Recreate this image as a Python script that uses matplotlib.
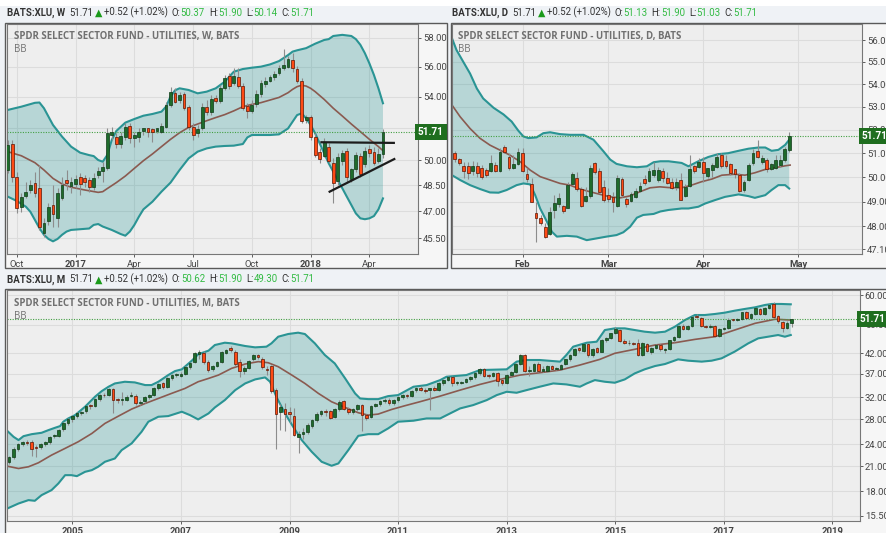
import numpy as np
import pandas as pd
import matplotlib
matplotlib.use("Agg")
import matplotlib.pyplot as plt
from matplotlib.patches import Rectangle
from matplotlib.ticker import FixedLocator, NullLocator, FuncFormatter

W_PX, H_PX = 887, 533

# ---------------- weekly (W) ----------------
WEEKLY_START = "2016-09-19"
W_OPEN = [
    49.41, 50.97, 49.01, 47.22, 47.90, 48.23, 48.62, 48.33, 45.77, 46.46,
    47.35, 46.60, 47.78, 48.81, 48.46, 48.56, 49.01, 48.81, 48.81, 48.42,
    49.11, 49.37, 49.51, 51.55, 51.45, 51.00, 51.45, 52.13, 51.35, 51.45,
    51.78, 51.80, 51.84, 51.78, 51.76, 52.07, 53.46, 54.26, 53.78, 54.15,
    53.35, 52.07, 51.65, 51.96, 53.35, 52.99, 53.89, 53.72, 54.59, 55.37,
    54.93, 55.28, 54.70, 53.39, 53.08, 53.53, 54.20, 54.82, 55.06, 55.28,
    55.60, 55.89, 56.00, 56.45, 55.85, 55.04, 52.50, 52.69, 51.45, 50.52,
    50.25, 50.79, 49.85, 48.75, 49.95, 50.58, 48.87, 49.47, 50.25, 49.75,
    50.66, 50.52, 49.95, 50.37]
W_HIGH = [
    51.24, 51.24, 49.31, 48.03, 48.72, 48.81, 49.31, 49.71, 46.60, 47.45,
    48.52, 48.33, 49.01, 49.41, 49.01, 49.11, 49.21, 49.11, 49.01, 49.21,
    49.61, 49.91, 51.96, 52.07, 51.65, 51.76, 52.28, 52.28, 51.76, 51.96,
    51.96, 51.96, 52.00, 51.86, 52.28, 53.67, 54.62, 54.55, 54.33, 54.33,
    53.46, 52.28, 52.17, 53.57, 53.78, 54.11, 54.11, 54.77, 55.44, 55.55,
    55.89, 55.93, 54.88, 53.57, 53.78, 54.44, 55.10, 55.28, 55.44, 55.73,
    56.11, 57.20, 56.73, 56.90, 56.04, 55.21, 52.81, 52.81, 51.65, 50.72,
    51.34, 51.03, 50.11, 50.42, 50.62, 50.72, 49.51, 50.52, 50.42, 50.83,
    50.93, 50.83, 50.72, 51.90]
W_LOW = [
    49.21, 48.72, 46.88, 46.97, 47.74, 48.03, 47.84, 45.95, 45.55, 46.23,
    46.14, 46.14, 47.65, 48.23, 48.03, 48.33, 47.94, 48.42, 48.13, 48.23,
    48.91, 48.72, 49.41, 51.24, 50.72, 50.72, 51.24, 51.03, 50.83, 51.14,
    51.55, 51.45, 51.14, 51.65, 51.65, 51.96, 53.35, 53.57, 53.57, 53.14,
    51.86, 51.24, 51.45, 51.86, 52.81, 52.81, 53.57, 53.57, 54.44, 54.48,
    54.77, 54.55, 53.14, 52.65, 52.92, 53.35, 54.00, 54.66, 54.99, 55.10,
    55.44, 55.77, 55.89, 55.66, 54.88, 52.28, 52.28, 51.24, 50.21, 49.81,
    50.21, 49.81, 47.45, 48.52, 49.71, 48.72, 48.72, 49.31, 49.01, 49.61,
    50.21, 49.71, 49.81, 50.14]
W_CLOSE = [
    50.93, 49.01, 47.16, 47.80, 48.03, 48.52, 48.03, 46.14, 46.32, 47.26,
    46.82, 48.03, 48.52, 48.62, 48.68, 48.87, 48.56, 48.72, 48.42, 48.95,
    49.35, 49.61, 51.65, 51.60, 50.99, 51.49, 52.07, 51.35, 51.45, 51.76,
    51.80, 51.76, 51.72, 51.80, 52.13, 53.46, 54.29, 53.67, 54.11, 53.25,
    52.03, 51.55, 51.90, 53.35, 53.03, 53.84, 53.72, 54.55, 55.21, 54.71,
    55.37, 54.73, 53.25, 53.10, 53.46, 54.18, 54.88, 55.06, 55.26, 55.51,
    55.89, 56.11, 56.49, 55.89, 55.04, 52.46, 52.71, 51.41, 50.32, 50.05,
    51.14, 49.95, 48.62, 50.17, 50.42, 48.97, 49.45, 50.32, 49.17, 50.58,
    50.46, 49.85, 50.36, 51.71]
# Bollinger band (bar number, price)
W_UPPER = [(0, 53.14), (3, 53.35), (6, 53.60), (7, 53.62), (8, 53.25), (10, 52.18),
           (12, 51.45), (14, 50.83), (16, 50.46), (18, 50.31), (19, 50.25), (20, 50.01),
           (21, 49.91), (22, 50.31), (23, 51.24), (24, 51.80), (26, 52.33), (28, 52.56),
           (30, 52.77), (32, 52.88), (34, 53.03), (35, 53.35), (36, 54.00), (37, 54.42),
           (38, 54.55), (40, 54.44), (42, 54.22), (44, 54.33), (46, 54.55), (48, 54.99),
           (50, 55.66), (52, 55.84), (54, 55.93), (56, 56.00), (58, 56.15), (60, 56.38),
           (62, 56.79), (63, 57.03), (64, 57.12), (66, 57.27), (68, 57.58), (70, 57.84),
           (71, 57.90), (72, 58.12), (74, 58.20), (76, 58.12), (77, 57.90), (78, 57.50),
           (79, 56.92), (80, 56.22), (81, 55.44), (82, 54.55), (83, 53.57)]
W_LOWER = [(0, 47.84), (2, 47.59), (4, 47.26), (5, 46.97), (6, 46.51), (7, 46.05),
           (8, 45.68), (9, 45.45), (10, 45.32), (11, 45.45), (12, 45.68), (13, 45.86),
           (14, 45.95), (16, 45.99), (18, 46.03), (19, 46.23), (20, 46.28), (21, 46.14),
           (23, 45.95), (25, 45.72), (26, 45.63), (27, 45.86), (28, 46.23), (29, 46.69),
           (30, 47.11), (32, 47.55), (34, 48.13), (36, 48.66), (38, 49.41), (40, 50.11),
           (42, 50.52), (44, 50.72), (46, 50.83), (48, 50.87), (50, 50.89), (52, 50.99),
           (53, 51.40), (54, 51.55), (56, 51.55), (58, 51.55), (60, 51.59), (62, 51.96),
           (64, 52.81), (65, 52.92), (66, 52.60), (67, 52.18), (68, 51.65), (69, 51.03),
           (70, 50.42), (71, 49.81), (72, 49.31), (73, 48.81), (74, 48.33), (75, 47.84),
           (76, 47.36), (77, 46.88), (78, 46.60), (79, 46.55), (80, 46.60), (81, 46.73),
           (82, 47.11), (83, 47.74)]
W_BASIS = [(0, 50.52), (3, 50.27), (6, 49.85), (8, 49.41), (10, 48.91), (12, 48.58),
           (14, 48.39), (17, 48.23), (20, 48.09), (21, 48.13), (22, 48.31), (24, 48.66),
           (26, 49.05), (28, 49.51), (30, 49.97), (32, 50.38), (34, 50.83), (36, 51.28),
           (38, 51.69), (40, 52.03), (42, 52.24), (44, 52.45), (46, 52.65), (48, 52.84),
           (50, 53.08), (52, 53.35), (54, 53.50), (56, 53.61), (58, 53.78), (60, 53.95),
           (62, 54.26), (63, 54.48), (64, 54.66), (65, 54.75), (66, 54.70), (67, 54.55),
           (68, 54.33), (70, 53.82), (72, 53.25), (74, 52.75), (76, 52.24), (78, 51.76),
           (80, 51.28), (82, 50.83), (83, 50.58)]
# hand drawn trend lines
W_RESISTANCE = [(69.4, 51.10), (85.4, 51.06)]
W_SUPPORT = [(71.2, 48.13), (85.5, 50.07)]
W_TICK_DATES = ["2016-10-03", "2017-01-02", "2017-04-03", "2017-07-03",
                "2017-10-02", "2018-01-01", "2018-04-02"]
W_TICK_LABELS = ["Oct", "2017", "Apr", "Jul", "Oct", "2018", "Apr"]
W_YTICKS = [45.5, 47.0, 48.5, 50.0, 52.0, 54.0, 56.0, 58.0]

# ---------------- daily (D) ----------------
DAILY_START = "2018-01-10"
DAILY_HOLIDAYS = ["2018-01-15", "2018-02-19", "2018-03-30"]
D_OPEN = [
    51.02, 50.71, 50.43, 50.47, 50.25, 50.47, 50.36, 50.26, 50.26, 50.50,
    50.26, 51.15, 50.85, 50.36, 50.53, 51.02, 49.99, 49.73, 48.48, 48.32,
    47.99, 47.72, 48.66, 48.92, 48.75, 48.75, 49.71, 49.97, 49.53, 49.03,
    49.21, 50.57, 50.25, 49.60, 49.21, 49.12, 48.81, 49.94, 49.12, 49.03,
    49.19, 49.42, 49.83, 49.86, 50.08, 49.90, 50.25, 49.97, 49.79, 49.61,
    49.88, 49.24, 49.64, 50.36, 50.43, 50.64, 50.04, 50.29, 50.43, 50.92,
    50.53, 50.53, 50.15, 50.08, 49.49, 49.90, 50.57, 51.09, 50.61, 50.71,
    50.33, 50.39, 50.50, 50.71, 51.13]
D_HIGH = [
    51.09, 50.78, 50.64, 50.64, 50.67, 50.61, 50.50, 50.36, 50.92, 50.64,
    51.20, 51.35, 50.99, 50.92, 51.20, 51.20, 50.36, 49.95, 49.00, 48.46,
    48.13, 48.79, 49.26, 49.33, 48.86, 49.81, 50.22, 50.22, 49.61, 49.61,
    50.50, 50.64, 50.36, 49.88, 49.54, 49.40, 50.08, 50.01, 49.19, 49.40,
    49.54, 49.81, 50.08, 50.36, 50.64, 50.43, 50.36, 50.22, 49.95, 49.95,
    50.15, 49.70, 50.92, 50.50, 50.78, 50.85, 50.39, 50.57, 50.99, 51.02,
    50.92, 50.57, 50.29, 50.15, 49.88, 50.57, 51.17, 51.57, 50.92, 50.78,
    50.57, 50.92, 50.92, 51.27, 51.90]
D_LOW = [
    50.64, 50.50, 49.95, 49.92, 50.08, 50.01, 49.92, 50.01, 50.22, 50.22,
    50.22, 51.00, 50.29, 50.32, 50.50, 50.22, 49.81, 49.00, 47.40, 48.06,
    47.53, 47.66, 48.33, 48.79, 48.52, 48.72, 49.67, 49.43, 48.79, 49.00,
    49.13, 50.11, 49.33, 49.00, 49.00, 48.59, 48.79, 49.19, 48.79, 49.00,
    49.13, 49.40, 49.67, 49.81, 50.01, 49.81, 49.81, 49.70, 49.51, 49.47,
    49.05, 49.20, 49.60, 50.15, 50.36, 49.81, 49.95, 50.01, 50.36, 50.36,
    50.39, 50.08, 49.97, 49.40, 49.40, 49.84, 50.50, 50.78, 50.53, 50.22,
    50.29, 50.33, 50.43, 50.64, 51.03]
D_CLOSE = [
    50.74, 50.57, 50.26, 50.15, 50.47, 50.15, 49.99, 50.08, 50.57, 50.26,
    51.05, 51.05, 50.39, 50.50, 51.05, 50.26, 49.91, 49.00, 48.35, 48.13,
    47.59, 48.59, 48.95, 49.16, 48.63, 49.67, 50.12, 49.51, 48.81, 49.12,
    50.39, 50.22, 49.39, 49.05, 49.09, 48.99, 49.97, 49.25, 48.92, 49.29,
    49.44, 49.64, 49.74, 50.26, 50.29, 50.29, 49.97, 49.74, 49.57, 49.79,
    49.08, 49.58, 50.32, 50.26, 50.53, 50.15, 50.36, 50.43, 50.85, 50.46,
    50.47, 50.15, 50.13, 49.42, 49.81, 50.50, 50.99, 50.82, 50.78, 50.32,
    50.36, 50.71, 50.69, 51.19, 51.71]
D_UPPER = [(-0.6, 56.08), (0.4, 55.54), (1.9, 55.00), (3.4, 54.47), (4.9, 53.80),
           (6.3, 53.36), (8.6, 52.95), (10.8, 52.66), (12.6, 52.35), (14.1, 51.95),
           (15.2, 51.71), (16.3, 51.64), (18.1, 51.67), (19.6, 51.85), (21.1, 51.89),
           (23.3, 51.81), (25.5, 51.78), (28.5, 51.78), (30.7, 51.57), (32.9, 51.08),
           (34.4, 50.73), (35.8, 50.55), (38.1, 50.45), (40.3, 50.41), (42.5, 50.45),
           (44.0, 50.62), (45.5, 50.66), (47.3, 50.66), (50.2, 50.59), (51.7, 50.45),
           (53.9, 50.66), (56.1, 50.84), (58.3, 50.96), (60.5, 51.00), (62.8, 51.10),
           (65.0, 51.19), (67.2, 51.24), (68.7, 51.24), (70.1, 51.10), (71.6, 51.14),
           (73.1, 51.35), (74.0, 51.57)]
D_LOWER = [(-0.6, 50.08), (1.2, 49.88), (3.4, 49.67), (5.6, 49.51), (7.8, 49.37),
           (9.7, 49.36), (11.5, 49.47), (13.7, 49.67), (15.2, 49.74), (16.7, 49.70),
           (17.8, 49.26), (18.9, 48.72), (20.4, 48.19), (21.5, 47.79), (22.6, 47.60),
           (24.8, 47.63), (27.0, 47.60), (29.2, 47.46), (31.4, 47.53), (33.6, 47.60),
           (35.8, 47.66), (37.3, 47.77), (38.8, 47.99), (40.3, 48.35), (41.7, 48.46),
           (44.0, 48.50), (45.5, 48.60), (47.3, 48.66), (50.2, 48.72), (51.7, 48.72),
           (53.9, 48.79), (55.4, 48.92), (57.6, 49.06), (59.8, 49.19), (62.8, 49.29),
           (65.0, 49.22), (66.4, 49.15), (68.7, 49.26), (70.1, 49.47), (71.6, 49.67),
           (73.1, 49.67), (74.0, 49.53)]
D_BASIS = [(-0.6, 53.07), (1.2, 52.56), (3.4, 52.05), (5.6, 51.63), (7.8, 51.34),
           (10.0, 51.13), (12.2, 50.92), (14.5, 50.64), (16.7, 50.29), (18.9, 50.02),
           (21.1, 49.88), (23.3, 49.74), (25.5, 49.67), (27.7, 49.51), (29.9, 49.40),
           (32.2, 49.29), (34.4, 49.19), (36.6, 49.15), (38.8, 49.23), (41.0, 49.40),
           (43.2, 49.56), (45.4, 49.60), (47.3, 49.57), (50.2, 49.56), (52.4, 49.67),
           (54.6, 49.81), (56.9, 49.92), (59.1, 50.08), (62.0, 50.12), (64.2, 50.08),
           (66.4, 50.18), (68.7, 50.32), (70.9, 50.39), (73.1, 50.47), (74.2, 50.50)]
D_TICK_DATES = ["2018-02-01", "2018-03-01", "2018-04-02", "2018-05-01"]
D_TICK_LABELS = ["Feb", "Mar", "Apr", "May"]
D_YTICKS = [47.1, 48.0, 49.0, 50.0, 51.0, 52.0, 53.0, 54.0, 55.0, 56.0]

# ---------------- monthly (M) ----------------
MONTHLY_START = (2003, 11)
M_OPEN = [
    21.6, 22.2, 23.4, 24.0, 24.4, 24.4, 23.6, 23.6, 24.0, 24.3,
    25.2, 25.3, 26.3, 27.3, 28.0, 28.5, 29.1, 29.4, 30.5, 30.3,
    31.7, 32.5, 32.4, 33.7, 31.6, 31.5, 31.6, 32.3, 32.3, 30.9,
    31.3, 32.0, 32.5, 33.9, 34.9, 34.1, 36.0, 36.7, 36.6, 36.9,
    38.6, 39.8, 41.9, 42.0, 39.7, 38.0, 38.8, 39.9, 42.0, 43.3,
    42.4, 39.7, 37.7, 38.3, 40.4, 41.5, 40.5, 38.2, 38.8, 33.5,
    29.2, 29.8, 29.3, 28.6, 25.1, 25.5, 25.9, 26.9, 27.9, 29.0,
    29.4, 29.4, 28.4, 29.8, 31.3, 29.8, 29.3, 29.8, 30.5, 28.7,
    28.4, 30.4, 30.7, 31.3, 31.6, 30.9, 31.6, 32.1, 32.4, 32.2,
    33.4, 34.0, 33.6, 33.5, 34.0, 33.6, 34.9, 35.6, 36.2, 35.0,
    35.0, 35.1, 35.8, 36.2, 37.1, 38.1, 36.6, 36.6, 37.2, 35.6,
    35.0, 36.7, 37.3, 39.3, 41.5, 37.7, 37.7, 39.4, 37.6, 37.6,
    38.8, 38.1, 38.2, 39.3, 40.4, 41.5, 43.3, 42.6, 44.3, 41.4,
    43.3, 42.4, 45.5, 46.0, 47.4, 48.4, 45.3, 44.6, 44.7, 44.8,
    41.5, 44.3, 42.4, 43.3, 44.1, 42.9, 43.0, 45.4, 46.5, 49.6,
    48.6, 49.6, 52.9, 52.0, 49.5, 49.4, 49.5, 46.7, 48.6, 49.1,
    51.6, 51.5, 51.8, 53.9, 52.2, 53.4, 55.1, 53.3, 55.3, 56.9,
    52.6, 50.9, 49.0, 50.62]
M_HIGH = [
    22.4, 23.6, 24.2, 24.5, 24.6, 24.6, 23.9, 24.2, 24.5, 25.3,
    25.6, 26.3, 27.6, 28.3, 28.8, 29.2, 29.5, 30.4, 30.7, 31.9,
    32.6, 32.8, 33.9, 34.0, 31.9, 33.0, 32.5, 33.0, 32.6, 31.5,
    32.2, 32.7, 34.1, 34.9, 35.1, 36.2, 36.9, 37.1, 37.3, 38.8,
    39.8, 42.2, 42.9, 42.6, 40.2, 39.0, 40.1, 42.6, 43.2, 43.9,
    42.9, 40.4, 38.8, 40.3, 41.9, 41.9, 41.0, 38.9, 39.0, 34.0,
    30.8, 31.0, 30.2, 30.0, 26.0, 26.5, 27.3, 28.1, 29.3, 29.7,
    29.8, 29.6, 30.0, 31.5, 31.5, 30.1, 30.0, 30.7, 30.8, 29.0,
    30.6, 31.0, 31.5, 31.9, 31.9, 31.8, 32.3, 32.6, 32.6, 33.5,
    34.2, 34.3, 33.9, 34.0, 34.3, 35.2, 35.8, 36.4, 36.5, 35.5,
    35.5, 36.0, 36.4, 37.3, 38.3, 38.4, 37.0, 37.4, 37.5, 35.9,
    36.9, 37.6, 39.5, 41.7, 41.8, 38.8, 39.6, 39.7, 38.8, 39.0,
    39.1, 38.6, 39.2, 40.6, 41.7, 43.4, 43.6, 44.5, 44.6, 43.4,
    43.6, 45.8, 46.3, 47.6, 49.4, 48.8, 45.7, 45.5, 45.1, 45.9,
    44.9, 44.8, 43.6, 44.4, 44.4, 43.4, 45.6, 46.7, 49.8, 50.2,
    49.9, 52.9, 53.3, 52.3, 49.9, 50.1, 49.9, 48.9, 49.3, 52.0,
    51.9, 52.0, 54.2, 54.3, 53.7, 55.5, 55.5, 55.6, 56.9, 57.4,
    53.0, 51.3, 51.0, 51.90]
M_LOW = [
    21.3, 22.0, 23.1, 23.8, 23.9, 22.3, 22.2, 23.4, 23.8, 24.1,
    24.9, 25.1, 26.1, 27.0, 27.6, 28.2, 28.7, 29.1, 29.9, 30.1,
    31.4, 32.0, 32.2, 29.1, 30.9, 30.6, 31.3, 32.0, 30.6, 30.5,
    31.0, 31.8, 32.3, 33.6, 33.8, 34.0, 35.7, 36.3, 36.3, 36.7,
    38.0, 39.5, 40.6, 39.2, 37.4, 37.6, 38.6, 39.6, 41.8, 42.4,
    38.9, 36.3, 36.9, 38.0, 40.0, 40.6, 38.0, 36.8, 32.9, 23.3,
    26.2, 26.0, 27.4, 25.2, 22.7, 24.8, 25.6, 26.6, 27.6, 28.6,
    28.6, 28.0, 28.2, 29.5, 29.6, 28.9, 29.0, 29.5, 26.0, 27.8,
    28.2, 30.1, 30.4, 31.0, 30.6, 30.6, 31.2, 31.8, 31.9, 32.0,
    33.1, 33.2, 32.9, 29.7, 33.2, 33.3, 34.6, 35.3, 34.4, 34.6,
    34.7, 34.9, 35.5, 35.9, 36.8, 36.3, 36.0, 36.2, 34.4, 34.6,
    34.8, 36.4, 37.1, 39.0, 37.5, 36.4, 37.4, 37.3, 37.3, 37.4,
    37.8, 37.9, 37.9, 39.0, 40.1, 41.2, 42.4, 42.3, 41.1, 41.1,
    42.0, 42.2, 45.0, 45.7, 47.1, 45.0, 44.3, 44.2, 44.2, 41.3,
    41.3, 42.2, 41.9, 43.0, 42.5, 42.0, 42.8, 45.1, 46.2, 48.3,
    48.3, 49.3, 52.2, 49.2, 49.0, 49.0, 46.4, 46.4, 48.3, 48.8,
    51.0, 51.2, 51.5, 51.9, 51.9, 53.1, 53.0, 53.0, 55.0, 52.2,
    50.6, 47.8, 48.7, 49.30]
M_CLOSE = [
    22.2, 23.4, 24.0, 24.3, 24.2, 23.3, 23.5, 24.0, 24.3, 25.1,
    25.4, 26.2, 27.4, 28.1, 28.6, 29.1, 29.2, 30.3, 30.3, 31.7,
    32.4, 32.4, 33.7, 31.5, 31.5, 31.6, 32.1, 32.4, 30.85, 31.2,
    32.0, 32.5, 33.9, 34.7, 34.1, 36.0, 36.7, 36.8, 37.0, 38.6,
    39.5, 42.0, 42.3, 39.7, 37.9, 38.8, 39.9, 42.4, 42.9, 42.8,
    39.3, 37.7, 38.25, 40.0, 41.4, 41.0, 38.5, 37.9, 33.2, 28.9,
    30.2, 29.0, 28.9, 25.4, 25.55, 25.9, 27.0, 27.9, 29.0, 29.4,
    29.3, 28.3, 29.8, 31.1, 29.8, 29.2, 29.8, 30.5, 28.7, 28.3,
    30.4, 30.7, 31.3, 31.6, 30.85, 31.5, 32.1, 32.4, 32.2, 33.3,
    34.0, 33.6, 33.3, 33.9, 33.6, 35.0, 35.6, 36.2, 34.9, 35.0,
    35.2, 35.8, 36.2, 37.1, 38.1, 36.6, 36.5, 37.2, 35.3, 35.0,
    36.7, 37.3, 39.3, 41.5, 37.7, 37.9, 39.3, 37.6, 38.2, 38.8,
    38.1, 38.2, 39.0, 40.4, 41.5, 43.2, 42.8, 44.3, 41.4, 43.2,
    42.4, 45.5, 46.0, 47.4, 48.6, 45.3, 44.6, 44.7, 44.5, 41.5,
    44.6, 42.5, 43.3, 44.1, 43.0, 43.1, 45.4, 46.4, 49.6, 48.6,
    49.6, 52.5, 52.5, 49.5, 49.4, 49.6, 46.8, 48.6, 49.0, 51.6,
    51.5, 51.8, 53.9, 52.2, 53.4, 55.3, 53.3, 55.3, 56.6, 52.5,
    51.0, 48.9, 50.6, 51.71]
M_UPPER = [(-0.4, 26.08), (1.0, 25.14), (2.1, 24.64), (3.2, 25.24), (5.0, 25.55),
           (7.2, 25.77), (8.7, 26.19), (10.2, 26.58), (11.3, 26.85), (12.0, 27.58),
           (13.1, 28.14), (14.6, 28.72), (16.8, 30.23), (19.0, 32.14), (20.5, 33.28),
           (22.0, 34.18), (23.4, 34.88), (25.6, 35.24), (27.8, 35.10), (30.1, 34.53),
           (31.5, 34.53), (33.0, 35.24), (35.2, 36.72), (36.7, 37.63), (38.2, 38.03),
           (40.4, 40.10), (41.8, 41.70), (44.1, 42.65), (45.5, 44.15), (47.7, 44.78),
           (49.2, 44.60), (52.2, 43.88), (54.4, 43.52), (56.9, 43.70), (58.0, 44.60),
           (59.5, 46.46), (61.7, 47.23), (63.9, 47.62), (65.4, 47.23), (67.6, 44.60),
           (69.8, 41.53), (72.0, 39.44), (74.3, 35.97), (76.5, 32.80), (77.6, 31.81),
           (79.4, 31.68), (81.6, 31.68), (83.8, 32.27), (86.0, 32.47), (89.4, 34.18),
           (92.3, 34.53), (95.3, 35.60), (96.7, 36.34), (101.1, 36.72), (104.1, 37.86),
           (110.0, 38.03), (112.2, 39.87), (114.4, 40.27), (117.3, 40.27), (121.8, 39.87),
           (123.2, 41.53), (124.7, 43.70), (127.7, 44.78), (129.9, 45.06), (131.7, 48.40),
           (133.9, 48.90), (136.1, 48.90), (138.3, 48.40), (140.5, 47.91), (142.8, 47.62),
           (145.0, 47.91), (147.2, 49.41), (149.4, 51.46), (151.6, 53.07), (153.8, 53.07),
           (156.0, 53.40), (158.2, 53.84), (160.4, 54.50), (162.6, 55.07), (164.9, 55.63),
           (167.1, 56.44), (168.6, 56.79), (170.7, 56.79), (172.8, 56.67)]
M_LOWER = [(-0.4, 16.19), (2.1, 16.70), (4.3, 17.05), (5.7, 16.98), (7.2, 17.58),
           (9.4, 18.13), (10.9, 18.88), (12.4, 19.87), (13.8, 19.87), (15.0, 19.75),
           (16.8, 20.28), (18.3, 20.49), (19.7, 20.92), (21.2, 21.57), (23.4, 22.01),
           (24.9, 23.17), (27.1, 24.14), (29.3, 25.93), (30.8, 27.58), (33.0, 28.43),
           (35.2, 28.55), (38.2, 29.32), (40.0, 28.72), (41.8, 27.97), (44.1, 29.02),
           (45.5, 30.10), (47.7, 31.49), (50.0, 33.48), (52.2, 34.88), (54.4, 35.75),
           (56.6, 36.19), (57.7, 35.24), (59.1, 32.14), (61.0, 29.02), (62.8, 26.74),
           (64.7, 24.64), (66.9, 22.94), (69.1, 21.57), (71.3, 21.05), (72.8, 21.35),
           (75.0, 23.17), (77.2, 25.29), (79.4, 25.55), (81.6, 25.55), (83.8, 26.47),
           (86.0, 27.58), (89.4, 27.75), (92.3, 28.14), (95.3, 28.14), (97.5, 29.02),
           (99.7, 29.92), (102.6, 30.54), (105.6, 31.49), (107.8, 32.47), (110.0, 33.14),
           (112.2, 32.94), (114.4, 33.48), (117.3, 34.18), (120.3, 34.88), (123.2, 34.67),
           (126.2, 34.18), (127.7, 34.88), (129.5, 35.60), (131.7, 35.24), (133.9, 35.03),
           (136.1, 35.75), (138.3, 37.09), (140.5, 38.03), (142.8, 38.81), (145.0, 39.29),
           (147.9, 40.43), (150.1, 40.10), (153.1, 39.87), (155.3, 40.10), (157.5, 40.68),
           (160.4, 42.39), (163.4, 44.60), (165.6, 45.99), (167.8, 46.46), (170.0, 46.94),
           (171.5, 46.46), (172.8, 46.94)]
M_BASIS = [(-0.4, 21.00), (2.1, 20.70), (4.3, 20.92), (6.5, 21.44), (9.4, 22.47),
           (12.4, 23.42), (15.3, 24.39), (18.3, 25.66), (21.2, 27.29), (24.2, 28.55),
           (27.1, 29.80), (30.1, 30.85), (33.0, 31.81), (35.9, 32.80), (38.9, 33.83),
           (41.8, 35.24), (44.1, 35.97), (46.3, 36.72), (49.2, 38.26), (52.2, 39.29),
           (55.1, 39.87), (57.3, 39.60), (59.5, 38.65), (62.5, 36.72), (65.4, 34.88),
           (68.4, 32.80), (71.3, 31.17), (74.3, 30.10), (77.2, 29.14), (79.4, 28.72),
           (81.6, 28.90), (84.6, 29.74), (87.5, 30.42), (90.8, 31.17), (95.3, 32.27),
           (99.7, 33.48), (104.1, 34.67), (108.5, 35.75), (113.0, 36.72), (117.3, 37.24),
           (121.8, 37.86), (126.2, 39.05), (130.6, 40.43), (133.9, 41.96), (138.3, 43.00),
           (142.8, 44.15), (147.2, 44.78), (151.6, 45.70), (156.0, 46.46), (160.4, 48.40),
           (164.9, 50.43), (169.3, 51.71), (172.8, 51.46)]
M_TICK_YEARS = [2005, 2007, 2009, 2011, 2013, 2015, 2017, 2019]
M_YTICKS = [15.5, 18.0, 21.0, 24.0, 28.0, 32.0, 37.0, 42.0, 50.0, 60.0]

PREV_DAY_CLOSE = D_CLOSE[-2]
LAST_PRICE = D_CLOSE[-1]

# colours
PAGE_BG = "#eff2f6"
PANEL_BG = "#f6f6f6"
PLOT_BG = "#eeeeee"
GRID = "#dcdcdc"
FRAME = "#5a5a5a"
UP_FILL, UP_EDGE = "#1e6b2b", "#0e3a16"
DOWN_FILL, DOWN_EDGE = "#ff4a14", "#5c1604"
WICK = "#8c8c8c"
BAND_FILL = "#0a8a8a"
BAND_LINE = "#2a9494"
BASIS_LINE = "#8a5a50"
LAST_GREEN = "#1f6e1f"
DOTTED_GREEN = "#44a044"
TEXT_DARK = "#333333"
TITLE_GRAY = "#707070"
VALUE_GREEN = "#33bb44"

plt.rcParams["font.family"] = ["Roboto", "DejaVu Sans"]


def fx(x):
    return x / W_PX


def fy(y):
    return 1 - y / H_PX


def add_axes_px(fig, x0, y0, x1, y1):
    return fig.add_axes([fx(x0), fy(y1), (x1 - x0) / W_PX, (y1 - y0) / H_PX])


def panel_box(fig, x0, y0, x1, y1):
    fig.add_artist(Rectangle((fx(x0), fy(y1)), (x1 - x0) / W_PX, (y1 - y0) / H_PX,
                             transform=fig.transFigure, facecolor=PANEL_BG,
                             edgecolor=FRAME, linewidth=1.0, zorder=-5))


def put_pieces(fig, x, y, pieces, size):
    renderer = fig.canvas.get_renderer()
    for text, color, weight, gap in pieces:
        t = fig.text(fx(x), fy(y), text, color=color, fontsize=size, fontweight=weight,
                     ha="left", va="center")
        x += t.get_window_extent(renderer).width + gap


def header(fig, x, y, interval, o, h, l, c):
    change = LAST_PRICE - PREV_DAY_CLOSE
    pct = 100 * change / PREV_DAY_CLOSE
    pieces = [(f"BATS:XLU, {interval}", TEXT_DARK, "bold", 4),
              (f"{LAST_PRICE:.2f}", TEXT_DARK, "normal", 2),
              ("\u25b2", "#1a9a1a", "normal", 1.5),
              (f"{change:+.2f} ({pct:+.2f}%)", TEXT_DARK, "normal", 4),
              ("O:", TEXT_DARK, "normal", 0), (f"{o:.2f}", VALUE_GREEN, "normal", 4),
              ("H:", TEXT_DARK, "normal", 0), (f"{h:.2f}", VALUE_GREEN, "normal", 4),
              ("L:", TEXT_DARK, "normal", 0), (f"{l:.2f}", VALUE_GREEN, "normal", 4),
              ("C:", TEXT_DARK, "normal", 0), (f"{c:.2f}", VALUE_GREEN, "normal", 0)]
    put_pieces(fig, x, y, pieces, 6.9)


def draw_candles(ax, o, h, l, c, width):
    o, h, l, c = (np.asarray(v, dtype=float) for v in (o, h, l, c))
    x = np.arange(len(o))
    up = c >= o
    ax.vlines(x, l, h, color=WICK, linewidth=0.8, zorder=3)
    bottom = np.minimum(o, c)
    height = np.maximum(np.abs(c - o), 0.004 * c)
    ax.bar(x[up], height[up], width, bottom=bottom[up], color=UP_FILL,
           edgecolor=UP_EDGE, linewidth=0.5, zorder=4)
    ax.bar(x[~up], height[~up], width, bottom=bottom[~up], color=DOWN_FILL,
           edgecolor=DOWN_EDGE, linewidth=0.5, zorder=4)


def draw_bands(ax, upper, lower, basis):
    ux, uy = zip(*upper)
    lx, ly = zip(*lower)
    bx, by = zip(*basis)
    ax.fill(list(ux) + list(lx)[::-1], list(uy) + list(ly)[::-1],
            color=BAND_FILL, alpha=0.24, linewidth=0, zorder=1)
    ax.plot(ux, uy, color=BAND_LINE, linewidth=1.5, zorder=2)
    ax.plot(lx, ly, color=BAND_LINE, linewidth=1.5, zorder=2)
    ax.plot(bx, by, color=BASIS_LINE, linewidth=1.2, zorder=2)


def style_axes(ax, xlim, ylim, yticks, xticks, xlabels, bold):
    ax.set_facecolor(PLOT_BG)
    ax.set_yscale("log")
    ax.set_xlim(*xlim)
    ax.set_ylim(*ylim)
    ax.yaxis.set_major_locator(FixedLocator(yticks))
    ax.yaxis.set_minor_locator(NullLocator())
    ax.yaxis.set_major_formatter(FuncFormatter(lambda v, _: f"{v:.2f}"))
    ax.yaxis.tick_right()
    ax.set_xticks(xticks)
    ax.set_xticklabels(xlabels)
    for lab, b in zip(ax.get_xticklabels(), bold):
        lab.set_fontweight("bold" if b else "normal")
    ax.tick_params(axis="y", labelsize=6.8, colors="#444444", length=2.5, pad=1.0, width=0.6)
    ax.tick_params(axis="x", labelsize=6.8, colors="#444444", length=2.5, pad=1.5, width=0.6)
    ax.grid(True, color=GRID, linewidth=0.8)
    ax.set_axisbelow(True)
    for s in ax.spines.values():
        s.set_color("#777777")
        s.set_linewidth(0.8)
    ax.axhline(LAST_PRICE, color=DOTTED_GREEN, linewidth=0.8, linestyle=(0, (1, 1.3)), zorder=2.5)
    ax.text(1.0, LAST_PRICE, f"{LAST_PRICE:.2f}", transform=ax.get_yaxis_transform(),
            ha="left", va="center", color="white", fontsize=7.2, fontweight="bold",
            bbox=dict(boxstyle="square,pad=0.3", facecolor=LAST_GREEN, edgecolor="none"),
            clip_on=False, zorder=10)


def chart_title(fig, x, y, interval):
    fig.text(fx(x), fy(y), f"SPDR SELECT SECTOR FUND - UTILITIES, {interval}, BATS",
             color=TITLE_GRAY, fontsize=6.9, fontweight="bold", ha="left", va="center",
             family=["Open Sans", "DejaVu Sans"])
    fig.text(fx(x), fy(y + 13), "BB", color=TITLE_GRAY, fontsize=6.9, ha="left",
             va="center", family=["Open Sans", "DejaVu Sans"])


def main():
    fig = plt.figure(figsize=(W_PX / 100, H_PX / 100), dpi=100)
    fig.patch.set_facecolor(PAGE_BG)
    fig.add_artist(Rectangle((0, fy(6)), 1, 1 - fy(6), transform=fig.transFigure,
                             facecolor="white", edgecolor="none", zorder=-6))

    panel_box(fig, 5, 23, 447.5, 268)
    panel_box(fig, 451, 23, 900, 268)
    panel_box(fig, 5, 289, 900, 545)

    # weekly
    ax_w = add_axes_px(fig, 7.3, 24, 418, 254)
    w_start = pd.Timestamp(WEEKLY_START)
    w_ticks = [(pd.Timestamp(d) - w_start).days / 7 for d in W_TICK_DATES]
    draw_bands(ax_w, W_UPPER, W_LOWER, W_BASIS)
    draw_candles(ax_w, W_OPEN, W_HIGH, W_LOW, W_CLOSE, 0.62)
    for line in (W_RESISTANCE, W_SUPPORT):
        lx, ly = zip(*line)
        ax_w.plot(lx, ly, color="#1c1c1c", linewidth=1.6, zorder=6)
    style_axes(ax_w, (-0.11, 90.75), (44.63, 58.97), W_YTICKS, w_ticks, W_TICK_LABELS,
               [lab.isdigit() for lab in W_TICK_LABELS])

    # daily
    ax_d = add_axes_px(fig, 452, 24, 862, 254)
    d_ticks = [int(np.busday_count(DAILY_START, d, holidays=DAILY_HOLIDAYS)) for d in D_TICK_DATES]
    draw_bands(ax_d, D_UPPER, D_LOWER, D_BASIS)
    draw_candles(ax_d, D_OPEN, D_HIGH, D_LOW, D_CLOSE, 0.62)
    style_axes(ax_d, (-0.6, 90.1), (46.92, 56.75), D_YTICKS, d_ticks, D_TICK_LABELS,
               [True] * len(D_TICK_LABELS))

    # monthly
    ax_m = add_axes_px(fig, 7.3, 290, 860, 521)
    y0, m0 = MONTHLY_START
    m_ticks = [(yr - y0) * 12 + (1 - m0) for yr in M_TICK_YEARS]
    draw_bands(ax_m, M_UPPER, M_LOWER, M_BASIS)
    draw_candles(ax_m, M_OPEN, M_HIGH, M_LOW, M_CLOSE, 0.58)
    style_axes(ax_m, (-0.38, 188.1), (15.0, 61.87), M_YTICKS, m_ticks,
               [str(yr) for yr in M_TICK_YEARS], [True] * len(M_TICK_YEARS))

    chart_title(fig, 14, 36.7, "W")
    chart_title(fig, 458, 36.7, "D")
    chart_title(fig, 14, 303.3, "M")

    header(fig, 7, 12.5, "W", W_OPEN[-1], W_HIGH[-1], W_LOW[-1], W_CLOSE[-1])
    header(fig, 452, 12.5, "D", D_OPEN[-1], D_HIGH[-1], D_LOW[-1], D_CLOSE[-1])
    header(fig, 7, 279.5, "M", M_OPEN[-1], M_HIGH[-1], M_LOW[-1], M_CLOSE[-1])

    fig.savefig("out.png", dpi=100, facecolor=fig.get_facecolor())


if __name__ == "__main__":
    main()
